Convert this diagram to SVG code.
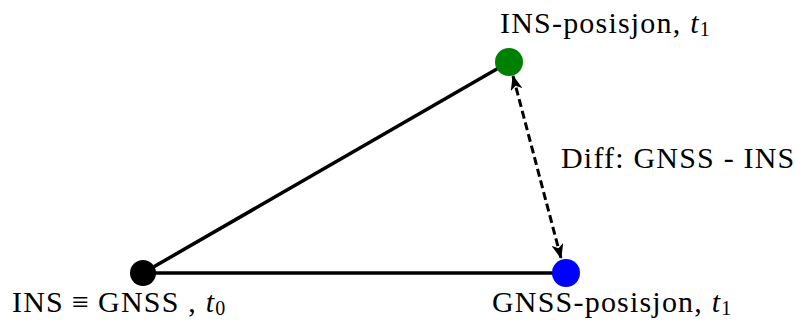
<svg xmlns="http://www.w3.org/2000/svg" width="795" height="320" viewBox="0 0 795 320">
<style>
.lbl{font-family:"Liberation Serif","DejaVu Serif",serif;font-size:30px;fill:#000;letter-spacing:1.2px}
.it{font-style:italic}
.sub{font-size:20px}
.edge{stroke:#000;stroke-width:3.5;fill:none}
.diff{stroke:#000;stroke-width:3;fill:none;stroke-dasharray:8,4}
</style>
<defs>
<marker id="ah" viewBox="0 0 15 12" refX="14" refY="6" markerWidth="15" markerHeight="12" markerUnits="userSpaceOnUse" orient="auto-start-reverse">
<path d="M0,0 L15,6 L0,12 L4,6 Z" fill="#000"/>
</marker>
</defs>
<g id="connectors">
<line class="edge" x1="143" y1="273" x2="509" y2="62"/>
<line class="edge" x1="143" y1="273" x2="566" y2="273"/>
<line class="diff" x1="513" y1="76" x2="561" y2="258" marker-start="url(#ah)" marker-end="url(#ah)"/>
</g>
<g id="node-start">
<circle cx="143" cy="273" r="13" fill="#000"/>
<text class="lbl" x="12" y="312">INS<tspan dx="8">≡</tspan><tspan dx="8">GNSS ,</tspan> <tspan class="it">t</tspan><tspan class="sub" dy="3">0</tspan></text>
</g>
<g id="node-ins">
<circle cx="509" cy="62" r="14" fill="#008000"/>
<text class="lbl" x="500" y="33">INS-posisjon, <tspan class="it">t</tspan><tspan class="sub" dy="3">1</tspan></text>
</g>
<g id="node-gnss">
<circle cx="566" cy="273" r="14" fill="#0000ff"/>
<text class="lbl" x="492" y="312">GNSS-posisjon, <tspan class="it">t</tspan><tspan class="sub" dy="3">1</tspan></text>
</g>
<g id="label-diff">
<text class="lbl" x="561" y="168">Diff: GNSS - INS</text>
</g>
</svg>
